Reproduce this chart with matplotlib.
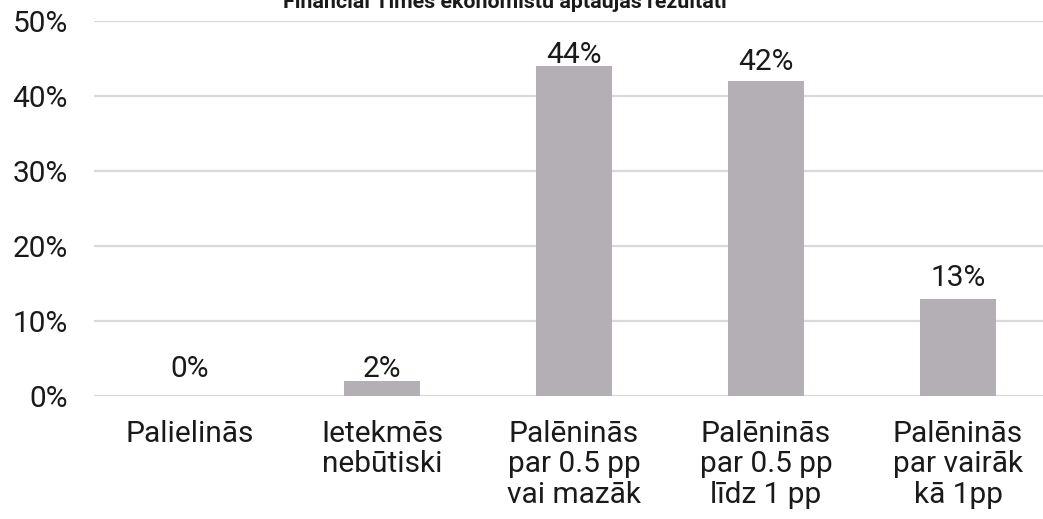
import matplotlib.pyplot as plt
from matplotlib.ticker import FuncFormatter

plt.rcParams['font.family'] = ['Roboto', 'DejaVu Sans']

categories = ['Palielinās', 'Ietekmēs\nnebūtiski', 'Palēninās\npar 0.5 pp\nvai mazāk',
              'Palēninās\npar 0.5 pp\nlīdz 1 pp', 'Palēninās\npar vairāk\nkā 1pp']
values = [0, 2, 44, 42, 13]
value_labels = ['0%', '2%', '44%', '42%', '13%']
title = 'Financial Times ekonomistu aptaujas rezultāti'

fig = plt.figure(figsize=(10.43, 5.19), dpi=100)
ax = fig.add_axes([94 / 1043, 1 - 396 / 519, 960 / 1043, 375 / 519])

x = range(len(categories))
bars = ax.bar(x, values, width=0.4, color='#b3afb4', zorder=3)

# label offsets (pixels) as seen in the original
offs = [19, 4, 3, 11, 12]
for b, lab, o in zip(bars, value_labels, offs):
    ax.annotate(lab, (b.get_x() + b.get_width() / 2, b.get_height()),
                xytext=(0, o * 0.72), textcoords='offset points',
                ha='center', va='baseline', fontsize=21.5, color='#1a1a1a')

ax.set_xlim(-0.5, len(categories) - 0.5)
ax.set_ylim(0, 50)
ax.set_yticks(range(0, 51, 10))
ax.yaxis.set_major_formatter(FuncFormatter(lambda v, p: f'{v:.0f}%'))
ax.set_xticks(list(x))
ax.set_xticklabels(categories, linespacing=1.12)
ax.tick_params(axis='both', length=0, labelsize=21.5, colors='#1a1a1a')
ax.tick_params(axis='x', pad=17)
ax.tick_params(axis='y', pad=19)
ax.grid(axis='y', color='#d9d9d9', linewidth=1.6, zorder=0)
ax.set_axisbelow(True)
for s in ax.spines.values():
    s.set_visible(False)

fig.text(505 / 1043, 1 - 8 / 519, title, ha='center', va='baseline',
         fontsize=15.4, fontweight='bold', color='#1a1a1a')

fig.savefig('out.png', dpi=100)
